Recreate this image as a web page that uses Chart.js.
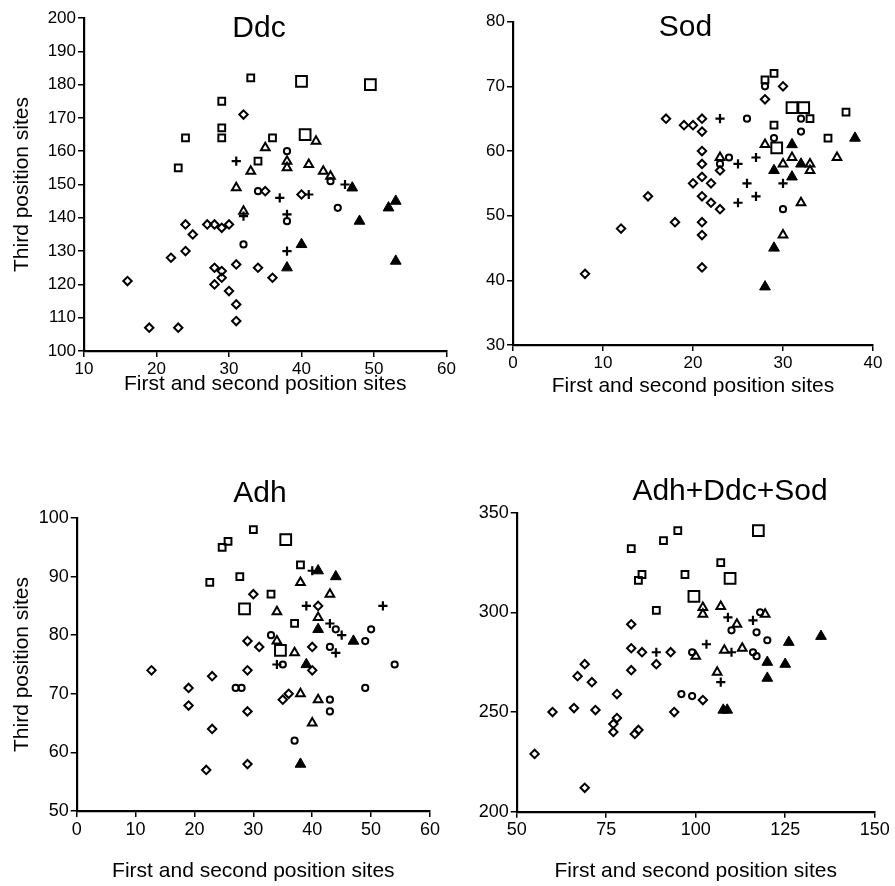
<!DOCTYPE html>
<html>
<head>
<meta charset="utf-8">
<script src="https://cdn.jsdelivr.net/npm/chart.js@4.4.1/dist/chart.umd.min.js"></script>
<style>
  html, body { margin: 0; padding: 0; background: #fff; }
  #wrap { position: relative; width: 895px; height: 886px; overflow: hidden; }
  canvas { position: absolute; }
</style>
</head>
<body>
<div id="wrap">
  <canvas id="ddc" width="460" height="400" style="left:0;top:0"></canvas>
  <canvas id="sod" width="440" height="400" style="left:455px;top:0"></canvas>
  <canvas id="adh" width="452" height="436" style="left:0;top:450px"></canvas>
  <canvas id="all" width="440" height="436" style="left:455px;top:450px"></canvas>
</div>
<script>
// --- Data: [first+second position sites, third position sites] ---
const ddcDiamond = [[32,171],[35,148],[40,147],[24,138],[27,138],[28,138],[29,137],[30,138],[25,135],[24,130],[22,128],[31,126],[34,125],[28,125],[29,124],[29,122],[28,120],[36,122],[30,118],[31,114],[31,109],[16,121],[19,107],[23,107]];
const ddcSquare = [[33,182],[29,175],[29,167],[29,164],[24,164],[36,164],[34,157],[23,155]];
const ddcBigSquare = [[40,181],[49.5,180],[40.5,165]];
const ddcCircle = [[38,160],[34,148],[45,143],[38,139],[32,132],[44,151]];
const ddcTriangle = [[35,161],[33,154],[42,163],[38,157],[38,155],[41,156],[43,154],[44,152.5],[31,149],[32,142]];
const ddcFilled = [[47,149],[52,143],[53,145],[48,139],[40,132],[38,125],[53,127]];
const ddcPlus = [[31,157],[37,146],[32,140.5],[41,147],[38,141],[46,150],[38,130]];

const sodDiamond = [[17,65],[19,64],[20,64],[21,65],[21,63],[21,60],[21,58],[21,56],[30,70],[28,68],[23,57],[20,55],[22,55],[21,53],[22,52],[23,51],[15,53],[18,49],[21,49],[21,47],[21,42],[12,48],[8,41]];
const sodSquare = [[29,72],[28,71],[33,65],[37,66],[29,64],[35,62]];
const sodBigSquare = [[31,66.7],[32.3,66.7],[29.3,60.5]];
const sodCircle = [[26,65],[28,70],[32,65],[32,63],[29,62],[24,59],[23,58],[30,51]];
const sodTriangle = [[28,61],[31,59],[36,59],[23,59],[30,58],[33,58],[33,57],[32,52],[30,47]];
const sodFilled = [[38,62],[31,61],[32,58],[29,57],[31,56],[29,45],[28,39]];
const sodPlus = [[23,65],[25,58],[27,59],[26,55],[30,55],[25,52],[27,53]];

const adhDiamond = [[30,87],[29,79],[31,78],[12.7,74],[23,73],[29,74],[19,71],[19,68],[29,67],[23,64],[29,58],[22,57],[41,85],[40,78],[40,74],[35,69],[36,70]];
const adhSquare = [[30,98],[24.7,95],[25.7,96],[22.6,89],[27.7,90],[33,87],[38,92],[37,82]];
const adhBigSquare = [[28.5,84.5],[35.5,96.3],[34.6,77.4]];
const adhCircle = [[33,80],[27,71],[28,71],[44,81],[50,81],[49,79],[43,78],[35,75],[54,75],[43,69],[43,67],[49,71],[37,62]];
const adhTriangle = [[38,89],[43,87],[34,84],[41,83],[34,79],[37,77],[38,70],[41,69],[40,65]];
const adhFilled = [[41,91],[44,90],[41,81],[47,79],[39,75],[38,58]];
const adhPlus = [[40,91],[39,85],[52,85],[43,82],[45,80],[44,77],[34,75]];

const allDiamond = [[55,229],[60,250],[66,252],[67,268],[69,274],[71,265],[72,251],[69,212],[77,244],[77,240],[78,247],[78,259],[83,239],[84,241],[82,271],[82,282],[82,294],[85,280],[89,274],[93,280],[94,250],[102,256]];
const allSquare = [[82,332],[84,316],[85,319],[89,301],[91,336],[95,341],[107,325],[97,319]];
const allBigSquare = [[117.5,341],[109.6,317],[99.5,308]];
const allCircle = [[110,291],[118,300],[117,290],[120,286],[99,280],[116,280],[117,278],[96,259],[99,258]];
const allTriangle = [[102,302.5],[102,299],[107,303],[111.5,294],[119.4,299],[100,278],[108,281],[113,282],[106,270]];
const allFilled = [[126,285],[135,288],[120,275],[125,274],[120,267],[107.7,251],[108.8,251]];
const allPlus = [[89,280],[109,297.5],[116,296],[103,284],[110,280],[107,265]];

// tick labels
const ddcXTicks = [10, 20, 30, 40, 50, 60];
const ddcYTicks = [100, 110, 120, 130, 140, 150, 160, 170, 180, 190, 200];
const sodXTicks = [0, 10, 20, 30, 40];
const sodYTicks = [30, 40, 50, 60, 70, 80];
const adhXTicks = [0, 10, 20, 30, 40, 50, 60];
const adhYTicks = [50, 60, 70, 80, 90, 100];
const allXTicks = [50, 75, 100, 125, 150];
const allYTicks = [200, 250, 300, 350];

const FONT = '"Liberation Sans", Arial, sans-serif';
const X_TITLE = 'First and second position sites';
const Y_TITLE = 'Third position sites';

// --- Marker looks ---
const MARKERS = {
    diamond:   { style: 'rectRot',  r: 4.2, bw: 2 },
    square:    { style: 'rect',     r: 4.8, bw: 2 },
    bigSquare: { style: 'rect',     r: 7.6, bw: 2 },
    circle:    { style: 'circle',   r: 3.1, bw: 2 },
    triangle:  { style: 'triangle', r: 5.0, bw: 2 },
    filled:    { style: 'triangle', r: 6.2, bw: 1, fill: true },
    plus:      { style: 'cross',    r: 4.6, bw: 2.2 }
};

function series(points, kind) {
    const m = MARKERS[kind];
    return {
        data: points.map(p => ({ x: p[0], y: p[1] })),
        pointStyle: m.style,
        pointRadius: m.r,
        pointHoverRadius: m.r,
        pointBorderWidth: m.bw,
        pointBorderColor: '#000',
        pointBackgroundColor: m.fill ? '#000' : 'rgba(0,0,0,0)',
        showLine: false
    };
}

// draws the panel name inside the plot, where the paper puts it
const panelTitle = {
    id: 'panelTitle',
    afterDraw(chart, args, opts) {
        const ctx = chart.ctx;
        ctx.save();
        ctx.font = '30px ' + FONT;
        ctx.fillStyle = '#000';
        ctx.textAlign = 'center';
        ctx.textBaseline = 'alphabetic';
        ctx.fillText(opts.text, opts.x, opts.y);
        ctx.restore();
    }
};

function axis(ticks, fit, title, titlePad, tickFont) {
    return {
        type: 'linear',
        min: ticks[0],
        max: ticks[ticks.length - 1],
        afterBuildTicks: s => { s.ticks = ticks.map(v => ({ value: v })); },
        afterFit: s => { if (s.isHorizontal()) s.height = fit; else s.width = fit; },
        grid: { display: true, drawOnChartArea: false, drawTicks: true, tickLength: 6, color: '#000', lineWidth: 1.5 },
        border: { display: true, color: '#000', width: 2.2 },
        ticks: { color: '#000', font: { family: FONT, size: tickFont }, padding: 2, maxRotation: 0, autoSkip: false },
        title: {
            display: !!title,
            text: title || '',
            color: '#000',
            font: { family: FONT, size: 21 },
            padding: { top: titlePad, bottom: titlePad }
        }
    };
}

function makePanel(id, cfg) {
    new Chart(document.getElementById(id), {
        type: 'scatter',
        data: {
            datasets: [
                series(cfg.diamond, 'diamond'),
                series(cfg.square, 'square'),
                series(cfg.bigSquare, 'bigSquare'),
                series(cfg.circle, 'circle'),
                series(cfg.triangle, 'triangle'),
                series(cfg.filled, 'filled'),
                series(cfg.plus, 'plus')
            ]
        },
        options: {
            responsive: false,
            animation: false,
            events: [],
            layout: { padding: cfg.padding },
            scales: {
                x: axis(cfg.xTicks, cfg.xFit, X_TITLE, cfg.xTitlePad, cfg.tickFont),
                y: axis(cfg.yTicks, cfg.yFit, cfg.yTitle, cfg.yTitlePad, cfg.tickFont)
            },
            plugins: {
                legend: { display: false },
                tooltip: { enabled: false },
                panelTitle: cfg.title
            }
        },
        plugins: [panelTitle]
    });
}

makePanel('ddc', {
    diamond: ddcDiamond, square: ddcSquare, bigSquare: ddcBigSquare, circle: ddcCircle,
    triangle: ddcTriangle, filled: ddcFilled, plus: ddcPlus,
    xTicks: ddcXTicks, yTicks: ddcYTicks,
    padding: { left: 0, right: 13.5, top: 18, bottom: 0 },
    xFit: 49, yFit: 84, xTitlePad: 3.4, yTitle: Y_TITLE, yTitlePad: 9.4, tickFont: 17,
    title: { text: 'Ddc', x: 259, y: 37 }
});

makePanel('sod', {
    diamond: sodDiamond, square: sodSquare, bigSquare: sodBigSquare, circle: sodCircle,
    triangle: sodTriangle, filled: sodFilled, plus: sodPlus,
    xTicks: sodXTicks, yTicks: sodYTicks,
    padding: { left: 0, right: 22, top: 21.7, bottom: 0 },
    xFit: 55, yFit: 58, xTitlePad: 1.4, yTitle: null, yTitlePad: 0, tickFont: 17,
    title: { text: 'Sod', x: 230.5, y: 36 }
});

makePanel('adh', {
    diamond: adhDiamond, square: adhSquare, bigSquare: adhBigSquare, circle: adhCircle,
    triangle: adhTriangle, filled: adhFilled, plus: adhPlus,
    xTicks: adhXTicks, yTicks: adhYTicks,
    padding: { left: 0, right: 22, top: 68, bottom: 0 },
    xFit: 75, yFit: 76.7, xTitlePad: 2.4, yTitle: Y_TITLE, yTitlePad: 9.4, tickFont: 18,
    title: { text: 'Adh', x: 260, y: 52 }
});

makePanel('all', {
    diamond: allDiamond, square: allSquare, bigSquare: allBigSquare, circle: allCircle,
    triangle: allTriangle, filled: allFilled, plus: allPlus,
    xTicks: allXTicks, yTicks: allYTicks,
    padding: { left: 0, right: 20.3, top: 62.7, bottom: 0 },
    xFit: 74.3, yFit: 61.7, xTitlePad: 2.4, yTitle: null, yTitlePad: 0, tickFont: 18,
    title: { text: 'Adh+Ddc+Sod', x: 275, y: 50 }
});
</script>
</body>
</html>
